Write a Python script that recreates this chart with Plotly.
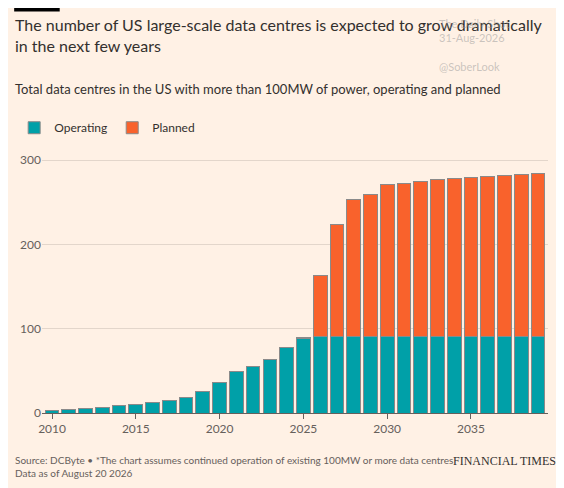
import plotly.graph_objects as go

years = list(range(2010, 2040))
operating = [3, 4, 5, 7, 9, 10, 12, 15, 18, 26, 36, 49, 55, 63, 78, 89,
             91, 91, 91, 91, 91, 91, 91, 91, 91, 91, 91, 91, 91, 91]
total = [3, 4, 5, 7, 9, 10, 12, 15, 18, 26, 36, 49, 55, 63, 78, 90,
         163, 224, 253, 259, 271, 272, 275, 277, 278, 280, 281, 282, 283, 284]
planned = [t - o for t, o in zip(total, operating)]

font = "Lato"
fig = go.Figure()
fig.add_bar(x=years, y=operating, name="Operating", marker_color="#00A0A8",
            marker_line=dict(color="#8a8a8a", width=1))
fig.add_bar(x=years, y=planned, name="Planned", marker_color="#F9622C",
            marker_line=dict(color="#8a8a8a", width=1))
fig.update_layout(
    barmode="stack", bargap=0.18, width=564, height=488,
    paper_bgcolor="#FFF1E5", plot_bgcolor="#FFF1E5",
    font=dict(family=font, color="#66605C", size=12),
    margin=dict(l=34, r=24, t=148, b=83, autoexpand=False),
    legend=dict(orientation="h", x=-0.055, xanchor="left", y=1.11, yanchor="middle",
                font=dict(size=12, color="#33302E"), traceorder="normal",
                itemwidth=30),
    xaxis=dict(tickvals=[2010, 2015, 2020, 2025, 2030, 2035], ticks="outside",
               ticklen=5, tickcolor="#66605C", showgrid=False, showline=True,
               linecolor="#66605C", range=[2009.4, 2039.6], tickfont=dict(size=12)),
    yaxis=dict(range=[0, 305], tickvals=[0, 100, 200, 300], gridcolor="#E3D6CB",
               zeroline=False, tickfont=dict(size=12)),
    showlegend=True,
)
fig.add_shape(type="line", xref="paper", yref="paper", x0=-0.055, x1=0.035,
              y0=1.57, y1=1.57, line=dict(color="black", width=4))
fig.add_annotation(xref="paper", yref="paper", x=-0.057, y=1.555, xanchor="left",
                   yanchor="top", align="left", showarrow=False,
                   text="The number of US large-scale data centres is expected to grow dramatically<br>in the next few years",
                   font=dict(size=16, color="#33302E"))
fig.add_annotation(xref="paper", yref="paper", x=-0.057, y=1.26, xanchor="left",
                   yanchor="middle", showarrow=False,
                   text="Total data centres in the US with more than 100MW of power, operating and planned",
                   font=dict(size=13, color="#33302E"))
fig.add_annotation(xref="paper", yref="paper", x=-0.057, y=-0.15, xanchor="left",
                   yanchor="top", align="left", showarrow=False,
                   text="Source: DCByte • *The chart assumes continued operation of existing 100MW or more data centres<br>Data as of August 20 2026",
                   font=dict(size=10, color="#66605C"))
fig.add_annotation(xref="paper", yref="paper", x=1.02, y=-0.15, xanchor="right",
                   yanchor="top", showarrow=False, text="FINANCIAL TIMES",
                   font=dict(size=12, color="#33302E", family="Liberation Serif"))
fig.add_annotation(xref="paper", yref="paper", x=0.78, y=1.55, xanchor="left",
                   yanchor="top", align="left", showarrow=False,
                   text="The Daily Shot<br>31-Aug-2026<br><br>@SoberLook",
                   font=dict(size=11, color="rgba(150,150,150,0.5)"))
fig.write_html("out.html")
